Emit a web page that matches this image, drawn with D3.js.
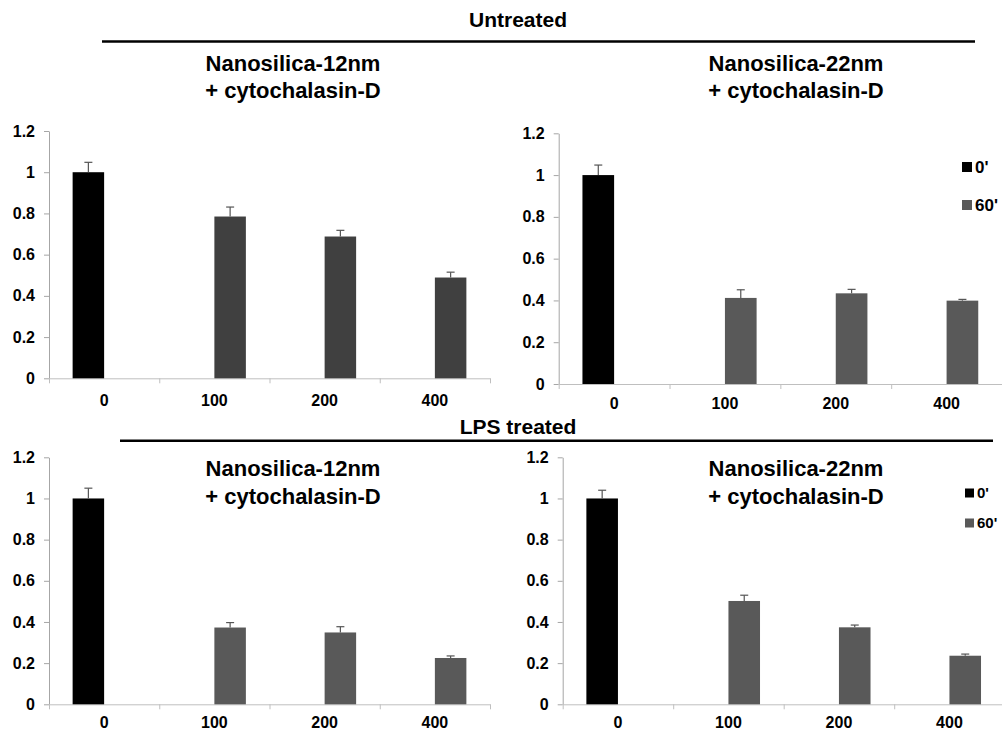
<!DOCTYPE html>
<html>
<head>
<meta charset="utf-8">
<script src="https://cdn.jsdelivr.net/npm/d3@7"></script>
<style>
  html, body { margin: 0; padding: 0; background: #fff; }
  svg { display: block; font-family: "Liberation Sans", Arial, sans-serif; font-weight: bold; }
</style>
</head>
<body>
<svg id="chart" width="1002" height="733"></svg>
<script>
// Doses (x categories), time points (series) and y-axis ticks
const doses = ["0", "100", "200", "400"];
const timePoints = ["0'", "60'"];
const yTicks = [0, 0.2, 0.4, 0.6, 0.8, 1, 1.2];

// Relative values per dose; 0' measured only at dose 0, 60' at the other doses
const untreated12_t0   = [1.0, null, null, null];
const untreated12_t60  = [null, 0.785, 0.688, 0.489];
const untreated12_err0 = [0.048, null, null, null];
const untreated12_err60 = [null, 0.046, 0.030, 0.026];

const untreated22_t0   = [1.0, null, null, null];
const untreated22_t60  = [null, 0.412, 0.434, 0.399];
const untreated22_err0 = [0.048, null, null, null];
const untreated22_err60 = [null, 0.039, 0.019, 0.006];

const lps12_t0   = [1.0, null, null, null];
const lps12_t60  = [null, 0.373, 0.349, 0.225];
const lps12_err0 = [0.050, null, null, null];
const lps12_err60 = [null, 0.024, 0.028, 0.010];

const lps22_t0   = [1.0, null, null, null];
const lps22_t60  = [null, 0.502, 0.374, 0.236];
const lps22_err0 = [0.040, null, null, null];
const lps22_err60 = [null, 0.028, 0.011, 0.008];

const panelTitles = [
  ["Nanosilica-12nm", "+ cytochalasin-D"],
  ["Nanosilica-22nm", "+ cytochalasin-D"]
];

const svg = d3.select("#chart");
const FONT = "Liberation Sans, Arial, sans-serif";

// Section headings with rules
function heading(text, cx, baseline, lx0, lx1, ly) {
  svg.append("text").attr("x", cx).attr("y", baseline)
    .attr("text-anchor", "middle").attr("font-size", 21).attr("fill", "#000")
    .text(text);
  svg.append("line").attr("x1", lx0).attr("x2", lx1).attr("y1", ly).attr("y2", ly)
    .attr("stroke", "#000").attr("stroke-width", 2.4);
}
heading("Untreated", 518, 27, 102, 975, 41.5);
heading("LPS treated", 518, 434, 120, 993, 440.7);

const panels = [
  { x0: 49,    x1: 490,    yZero: 378.3, yTop: 131,   t0: untreated12_t0, t60: untreated12_t60, e0: untreated12_err0, e60: untreated12_err60,
    color60: "#404040", title: panelTitles[0], titleX: 293, titleY: [71, 98], labelPad: 16, legend: null },
  { x0: 558.7, x1: 1002,   yZero: 384,   yTop: 133.3, t0: untreated22_t0, t60: untreated22_t60, e0: untreated22_err0, e60: untreated22_err60,
    color60: "#595959", title: panelTitles[1], titleX: 796, titleY: [71, 98], labelPad: 14, legend: { x: 962, y: [167, 205], size: 10, font: 17 } },
  { x0: 49,    x1: 490,    yZero: 704.3, yTop: 457.3, t0: lps12_t0, t60: lps12_t60, e0: lps12_err0, e60: lps12_err60,
    color60: "#595959", title: panelTitles[0], titleX: 293, titleY: [476, 504], labelPad: 12, legend: null },
  { x0: 562.7, x1: 1004.7, yZero: 704.3, yTop: 457.3, t0: lps22_t0, t60: lps22_t60, e0: lps22_err0, e60: lps22_err60,
    color60: "#595959", title: panelTitles[1], titleX: 796, titleY: [476, 504], labelPad: 12, legend: { x: 965, y: [493, 523], size: 9, font: 15 } }
];

panels.forEach(p => {
  const g = svg.append("g");
  const y = d3.scaleLinear().domain([0, 1.2]).range([p.yZero, p.yTop]);
  const x = d3.scaleBand().domain(doses).range([p.x0, p.x1]).paddingInner(0).paddingOuter(0);
  const xs = d3.scaleBand().domain(timePoints).range([0, x.bandwidth()]).paddingInner(0).paddingOuter(0.75);
  const colors = { "0'": "#000", "60'": p.color60 };

  // y axis
  const ya = g.append("g").attr("transform", `translate(${p.x0},0)`)
    .call(d3.axisLeft(y).tickValues(yTicks).tickSize(5).tickSizeOuter(0).tickPadding(9)
      .tickFormat(d => d3.format("")(+d.toFixed(1))));
  ya.select(".domain").attr("stroke", "#a6a6a6");
  ya.selectAll(".tick line").attr("stroke", "#a6a6a6");
  ya.selectAll(".tick text").attr("font-family", FONT).attr("font-size", 16).attr("font-weight", "bold").attr("fill", "#000");

  // x axis: ticks at category boundaries
  const bounds = d3.scaleLinear().domain([0, doses.length]).range([p.x0, p.x1]);
  const xb = g.append("g").attr("transform", `translate(0,${p.yZero})`)
    .call(d3.axisBottom(bounds).tickValues(d3.range(doses.length + 1)).tickSize(5).tickSizeOuter(0).tickFormat(""));
  xb.select(".domain").attr("stroke", "#bfbfbf");
  xb.selectAll(".tick line").attr("stroke", "#bfbfbf");
  // x labels at category centres
  const xl = g.append("g").attr("transform", `translate(0,${p.yZero})`)
    .call(d3.axisBottom(x).tickSize(0).tickPadding(p.labelPad));
  xl.select(".domain").remove();
  xl.selectAll(".tick text").attr("font-family", FONT).attr("font-size", 16).attr("font-weight", "bold").attr("fill", "#000");

  // bars + upper error bars
  const rows = [];
  doses.forEach((d, i) => {
    if (p.t0[i] != null) rows.push({ dose: d, s: "0'", v: p.t0[i], e: p.e0[i] });
    if (p.t60[i] != null) rows.push({ dose: d, s: "60'", v: p.t60[i], e: p.e60[i] });
  });
  g.selectAll("rect.bar").data(rows).join("rect").attr("class", "bar")
    .attr("x", r => x(r.dose) + xs(r.s))
    .attr("width", xs.bandwidth())
    .attr("y", r => y(r.v))
    .attr("height", r => y(0) - y(r.v))
    .attr("fill", r => colors[r.s]);
  const eb = g.selectAll("g.err").data(rows).join("g").attr("class", "err")
    .attr("stroke", "#555").attr("stroke-width", 1.2);
  eb.append("line")
    .attr("x1", r => x(r.dose) + xs(r.s) + xs.bandwidth() / 2)
    .attr("x2", r => x(r.dose) + xs(r.s) + xs.bandwidth() / 2)
    .attr("y1", r => y(r.v)).attr("y2", r => y(r.v + r.e));
  eb.append("line")
    .attr("x1", r => x(r.dose) + xs(r.s) + xs.bandwidth() / 2 - 4)
    .attr("x2", r => x(r.dose) + xs(r.s) + xs.bandwidth() / 2 + 4)
    .attr("y1", r => y(r.v + r.e)).attr("y2", r => y(r.v + r.e));

  // panel title
  p.title.forEach((t, k) => {
    svg.append("text").attr("x", p.titleX).attr("y", p.titleY[k])
      .attr("text-anchor", "middle").attr("font-size", 22).attr("fill", "#000").text(t);
  });

  // legend
  if (p.legend) {
    const L = p.legend;
    timePoints.forEach((s, k) => {
      svg.append("rect").attr("x", L.x).attr("y", L.y[k] - L.size / 2)
        .attr("width", L.size).attr("height", L.size).attr("fill", colors[s]);
      svg.append("text").attr("x", L.x + L.size + 3).attr("y", L.y[k]).attr("dy", "0.36em")
        .attr("font-size", L.font).attr("fill", "#000").text(s);
    });
  }
});
</script>
</body>
</html>
